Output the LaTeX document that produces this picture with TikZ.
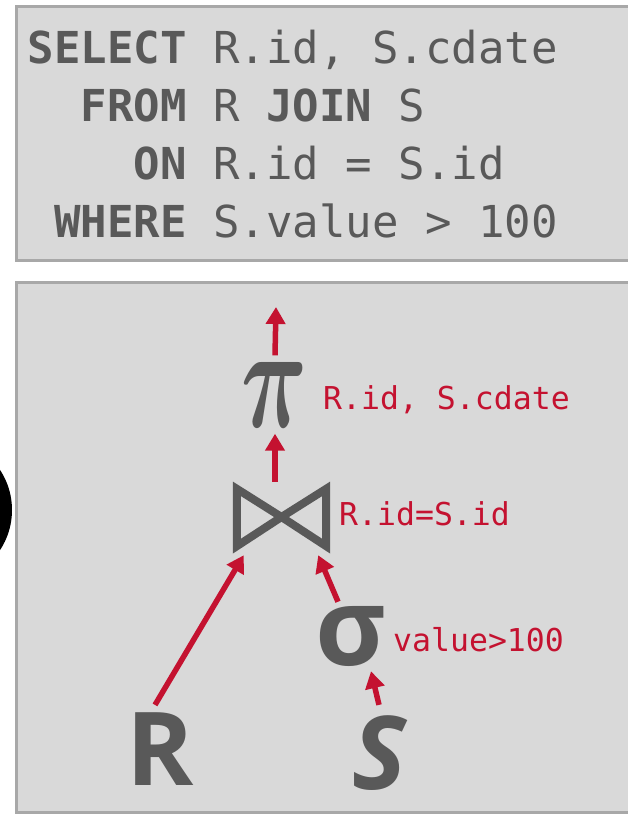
\documentclass[tikz,border=0pt]{standalone}
\usepackage{fontspec}
\usepackage{amsmath}
\usepackage{graphicx}
\setmonofont{DejaVu Sans Mono}
\newfontfamily\relfont{Open Sans}
\usetikzlibrary{arrows.meta}

\definecolor{ink}{HTML}{595959}
\definecolor{hot}{HTML}{C41230}
\definecolor{boxgray}{HTML}{D9D9D9}
\definecolor{rim}{HTML}{A8A8A8}

\tikzset{panelbox/.style = {fill=boxgray, draw=rim, line width=3pt}}
\tikzset{kw/.style = {anchor=base east, inner sep=0, text=ink, font=\fontsize{44}{44}\selectfont\ttfamily\bfseries}}
\tikzset{arg/.style = {anchor=base west, inner sep=0, text=ink, font=\fontsize{44}{44}\selectfont\ttfamily}}
\tikzset{cond/.style = {anchor=base west, inner sep=0, text=hot, font=\fontsize{31.5}{32}\selectfont\ttfamily}}
\tikzset{rel/.style = {inner sep=0, text=ink, font=\fontsize{102}{102}\selectfont\relfont\bfseries}}
\tikzset{flow/.style = {draw=hot, line width=5.5pt, -{Triangle[width=19pt, length=17pt]}}}

\begin{document}
\begin{tikzpicture}[x=1pt, y=-1pt]
    \useasboundingbox (0,0) rectangle (628,814);
    \clip (0,0) rectangle (628,814);
    \fill[white] (0,0) rectangle (628,814);
    \fill[black] (-61,510) circle [radius=73pt];

    % query text
    \draw[panelbox] (16.5,6) rectangle (640,260);
    \node [kw] (kwselect) at (187,63) {SELECT};
    \node [arg] (argselect) at (213,63) {R.id, S.cdate};
    \node [kw] (kwfrom) at (187,121) {FROM};
    \node [arg] (argfrom) at (213,121) {R \textbf{JOIN} S};
    \node [kw] (kwon) at (187,179) {ON};
    \node [arg] (argon) at (213,179) {R.id = S.id};
    \node [kw] (kwwhere) at (187,237) {WHERE};
    \node [arg] (argwhere) at (213,237) {S.value > 100};

    % plan tree
    \draw[panelbox] (16.5,282) rectangle (640,812);
    \coordinate (out) at (276,307);
    \node [inner sep=0, minimum height=78pt, text=ink] (proj) at (275,394.5)
        {\resizebox{66pt}{65pt}{$\boldsymbol{\pi}$}};
    \node [inner sep=0, minimum width=97pt, minimum height=70pt] (join) at (281.5,517) {};
    \draw[ink, line width=8pt] ([shift={(4,7)}]join.north west) -- ([shift={(4,-6)}]join.south west)
        -- (join.center) -- cycle;
    \draw[ink, line width=8pt] ([shift={(-4,7)}]join.north east) -- ([shift={(-4,-6)}]join.south east)
        -- (join.center) -- cycle;
    \node [rel, font=\fontsize{108}{108}\selectfont\relfont\bfseries] (sigma) at (351,636) {σ};
    \node [rel] (relR) at (160,749.5) {R};
    \node [rel] (relS) at (380,753.5) {\itshape S};

    \node [cond] (projcols) at (323,409) {R.id, S.cdate};
    \node [cond] (joinpred) at (339,525) {R.id=S.id};
    \node [cond] (selpred) at (393,651) {value>100};

    \draw[flow] (proj.north) -- (out);
    \draw[flow] (join.north -| proj) -- (proj.south);
    \draw[flow] ([shift={(-5,-8)}]relR.north) -- ([shift={(11,3)}]join.south west);
    \draw[flow] ([shift={(-13,-4)}]sigma.north) -- ([shift={(-12,3)}]join.south east);
    \draw[flow] ([shift={(-1,-11)}]relS.north) -- ([shift={(20,5)}]sigma.south);
\end{tikzpicture}
\end{document}
